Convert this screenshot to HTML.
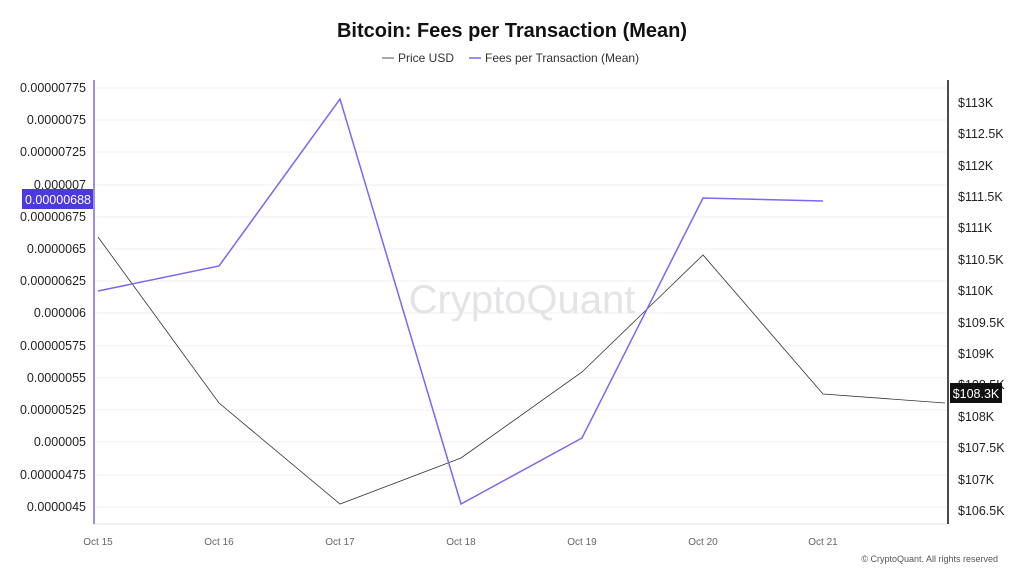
<!DOCTYPE html>
<html><head><meta charset="utf-8"><style>
body{margin:0;background:#fff;width:1024px;height:576px;overflow:hidden;font-family:"Liberation Sans",sans-serif}
</style></head><body>
<svg width="1024" height="576" viewBox="0 0 1024 576" xmlns="http://www.w3.org/2000/svg" font-family="Liberation Sans, sans-serif">
<text x="512" y="37" text-anchor="middle" font-size="20" font-weight="bold" fill="#111">Bitcoin: Fees per Transaction (Mean)</text>
<line x1="382" y1="58" x2="394" y2="58" stroke="#555" stroke-width="1"/>
<text x="398" y="62" font-size="12" fill="#333">Price USD</text>
<line x1="469" y1="58" x2="481" y2="58" stroke="#7b68ee" stroke-width="1.5"/>
<text x="485" y="62" font-size="12" fill="#333">Fees per Transaction (Mean)</text>
<g stroke="#f0f0f0" stroke-width="1">
<line x1="94" x2="948" y1="88" y2="88"/><line x1="94" x2="948" y1="120" y2="120"/><line x1="94" x2="948" y1="152" y2="152"/><line x1="94" x2="948" y1="185" y2="185"/><line x1="94" x2="948" y1="217" y2="217"/><line x1="94" x2="948" y1="249" y2="249"/><line x1="94" x2="948" y1="281" y2="281"/><line x1="94" x2="948" y1="313" y2="313"/><line x1="94" x2="948" y1="346" y2="346"/><line x1="94" x2="948" y1="378" y2="378"/><line x1="94" x2="948" y1="410" y2="410"/><line x1="94" x2="948" y1="442" y2="442"/><line x1="94" x2="948" y1="475" y2="475"/><line x1="94" x2="948" y1="507" y2="507"/>
</g>
<line x1="94" y1="524" x2="948" y2="524" stroke="#e0e0e0"/>
<text x="522" y="313" text-anchor="middle" font-size="40" fill="#e4e4e8">CryptoQuant</text>
<line x1="94" y1="80" x2="94" y2="524" stroke="#7b68ee" stroke-width="1.5"/>
<line x1="948" y1="80" x2="948" y2="524" stroke="#111" stroke-width="1.5"/>
<g font-size="12.5" fill="#222" text-anchor="end">
<text x="86" y="92">0.00000775</text><text x="86" y="124">0.0000075</text><text x="86" y="156">0.00000725</text><text x="86" y="189">0.000007</text><text x="86" y="221">0.00000675</text><text x="86" y="253">0.0000065</text><text x="86" y="285">0.00000625</text><text x="86" y="317">0.000006</text><text x="86" y="350">0.00000575</text><text x="86" y="382">0.0000055</text><text x="86" y="414">0.00000525</text><text x="86" y="446">0.000005</text><text x="86" y="479">0.00000475</text><text x="86" y="511">0.0000045</text>
</g>
<rect x="22" y="189" width="71" height="20" fill="#4b3ae0"/>
<text x="58" y="204" text-anchor="middle" font-size="12.5" fill="#fff">0.00000688</text>
<g font-size="12.5" fill="#222">
<text x="958" y="107">$113K</text><text x="958" y="138">$112.5K</text><text x="958" y="170">$112K</text><text x="958" y="201">$111.5K</text><text x="958" y="232">$111K</text><text x="958" y="264">$110.5K</text><text x="958" y="295">$110K</text><text x="958" y="327">$109.5K</text><text x="958" y="358">$109K</text><text x="958" y="389">$108.5K</text><text x="958" y="421">$108K</text><text x="958" y="452">$107.5K</text><text x="958" y="484">$107K</text><text x="958" y="515">$106.5K</text>
</g>
<rect x="950" y="383" width="52" height="20" fill="#111"/>
<text x="976" y="398" text-anchor="middle" font-size="12.5" fill="#fff">$108.3K</text>
<g font-size="10" fill="#666" text-anchor="middle">
<text x="98" y="545">Oct 15</text><text x="219" y="545">Oct 16</text><text x="340" y="545">Oct 17</text><text x="461" y="545">Oct 18</text><text x="582" y="545">Oct 19</text><text x="703" y="545">Oct 20</text><text x="823" y="545">Oct 21</text>
</g>
<polyline fill="none" stroke="#333" stroke-width="0.8" points="98,237 219,403 340,504 461,458 582,372 703,255 823,394 945,403"/>
<polyline fill="none" stroke="#7b68ee" stroke-width="1.5" points="98,291 219,266 340,99 461,504 582,438 703,198 823,201"/>
<text x="998" y="562" text-anchor="end" font-size="9" fill="#555">© CryptoQuant. All rights reserved</text>
</svg>
</body></html>
